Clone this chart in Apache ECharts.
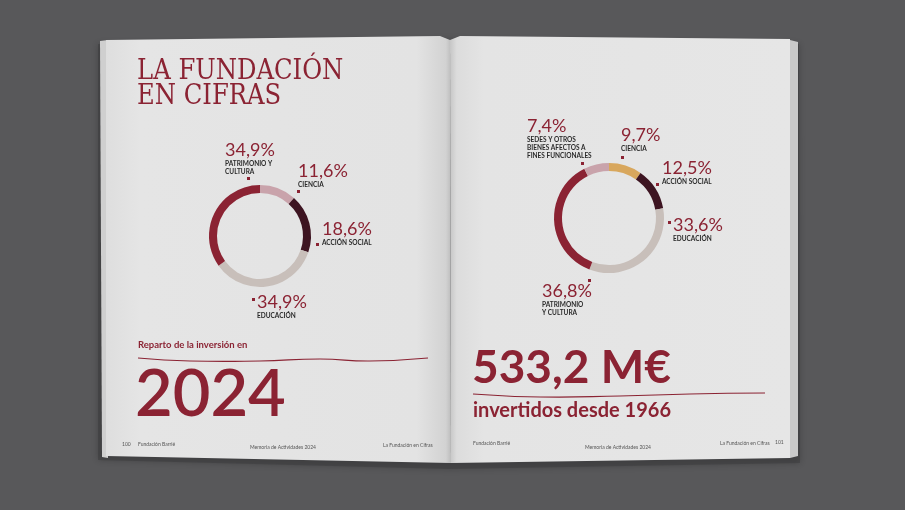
<!DOCTYPE html>
<html><head><meta charset="utf-8">
<script src="https://cdn.jsdelivr.net/npm/echarts@6/dist/echarts.min.js"></script>
<style>html,body{margin:0;padding:0;background:#58585a}#c{width:905px;height:510px}</style>
</head><body><div id="c"></div>
<script>
// ---- data (clockwise from 12 o'clock) ----
const cats2024 = ['CIENCIA', 'ACCIÓN SOCIAL', 'EDUCACIÓN', 'PATRIMONIO Y\nCULTURA'];
const vals2024 = [11.6, 18.6, 34.9, 34.9];
const catsTotal = ['CIENCIA', 'ACCIÓN SOCIAL', 'EDUCACIÓN', 'PATRIMONIO\nY CULTURA', 'SEDES Y OTROS\nBIENES AFECTOS A\nFINES FUNCIONALES'];
const valsTotal = [9.7, 12.5, 33.6, 36.8, 7.4];
const yearLabel = '2024';
const totalLabel = '533,2 M€';
const sinceLabel = 'invertidos desde 1966';

// ---- styles ----
const RED = '#8b2333';
const colors2024 = ['#c9a3ab', '#3d1421', '#c8bfba', RED];
const colorsTotal = ['#d8a75d', '#3d1421', '#c8bfba', RED, '#c9a3ab'];
const labelPos2024 = [[298, 161], [322, 219], [257, 292], [225, 140]];
const labelPosTotal = [[621, 125], [662, 158], [673, 215], [542, 281], [527, 116]];
const markers = [[247, 177], [297, 190], [316, 243], [252, 298], [581, 162], [621, 156], [656, 183], [668, 221], [588, 279]];

const fmt = v => v.toFixed(1).replace('.', ',') + '%';
const mkData = (c, v, col) => c.map((n, i) => ({ name: n, value: v[i], itemStyle: { color: col[i] } }));
const labelFmt = p => '{v|' + fmt(p.value) + '}\n' + p.name.split('\n').map(s => '{n|' + s + '}').join('\n');
const rich = {
  v: { fontFamily: 'Lato', fontSize: 18, color: RED, lineHeight: 20 },
  n: { fontFamily: 'Lato', fontWeight: 'bold', fontSize: 6.5, color: '#2a2a2a', lineHeight: 8 }
};
function pieSeries(cats, vals, cols, pos, center, radius) {
  return {
    type: 'pie', center: center, radius: radius, startAngle: 90, clockwise: true,
    avoidLabelOverlap: false, silent: true, animation: false,
    data: mkData(cats, vals, cols),
    label: { show: true, position: 'outside', formatter: labelFmt, rich: rich },
    labelLine: { show: false },
    labelLayout: p => ({ x: pos[p.dataIndex][0], y: pos[p.dataIndex][1], align: 'left', verticalAlign: 'top', hideOverlap: false })
  };
}

const g = [];
// page stack shadows & pages
g.push({ type: 'polygon', z: 0, shape: { points: [[98, 44], [450, 40], [799, 44], [800, 463], [450, 469], [98, 460]] }, style: { fill: '#3c3c3e', opacity: 0.55, shadowBlur: 6, shadowColor: 'rgba(0,0,0,0.4)' } });
g.push({ type: 'polygon', z: 1, shape: { points: [[100, 41], [108, 40], [108, 458], [102, 457]] }, style: { fill: '#cfcfcf' } });
g.push({ type: 'polygon', z: 1, shape: { points: [[790, 40], [798, 42], [798, 456], [790, 458]] }, style: { fill: '#c9c9c9' } });
g.push({ type: 'polygon', z: 2, shape: { points: [[106, 40], [440, 36], [450, 40], [451, 463], [106, 456]] },
  style: { fill: { type: 'linear', x: 0, y: 0, x2: 1, y2: 0, colorStops: [{ offset: 0, color: '#dedede' }, { offset: 0.1, color: '#e5e5e5' }, { offset: 0.9, color: '#e3e3e3' }, { offset: 0.985, color: '#d2d2d2' }, { offset: 1, color: '#bdbdbd' }] } } });
g.push({ type: 'polygon', z: 2, shape: { points: [[450, 40], [460, 36], [790, 39], [790, 458], [451, 463]] },
  style: { fill: { type: 'linear', x: 0, y: 0, x2: 1, y2: 0, colorStops: [{ offset: 0, color: '#c6c6c6' }, { offset: 0.02, color: '#dcdcdc' }, { offset: 0.1, color: '#e4e4e4' }, { offset: 1, color: '#e6e6e6' }] } } });
// titles
g.push({ type: 'text', z: 5, style: { x: 137, y: 59, text: 'LA FUNDACIÓN\nEN CIFRAS', fill: RED, font: 'normal 27px "DejaVu Serif Condensed", "DejaVu Serif", serif', lineHeight: 25 } });
g.push({ type: 'text', z: 5, style: { x: 138, y: 340, text: 'Reparto de la inversión en', fill: RED, font: 'bold 9.5px Lato' } });
g.push({ type: 'polyline', z: 5, shape: { points: [[138, 358], [190, 361], [260, 361], [320, 359], [370, 361], [428, 358]], smooth: 0.5 }, style: { stroke: RED, lineWidth: 1.2, fill: null } });
g.push({ type: 'text', z: 5, style: { x: 135, y: 363, text: yearLabel, fill: RED, font: '600 65px Lato' } });
g.push({ type: 'text', z: 5, style: { x: 472, y: 345, text: totalLabel, fill: RED, font: 'bold 46px Lato' } });
g.push({ type: 'polyline', z: 5, shape: { points: [[473, 394], [540, 397], [620, 396], [690, 394], [765, 393]], smooth: 0.5 }, style: { stroke: RED, lineWidth: 1.2, fill: null } });
g.push({ type: 'text', z: 5, style: { x: 473, y: 401, text: sinceLabel, fill: RED, font: 'bold 20px Lato' } });
// footers
const ft = (x, y, t) => g.push({ type: 'text', z: 5, style: { x: x, y: y, text: t, fill: '#555', font: '5px Lato' } });
ft(122, 442, '100'); ft(138, 442, 'Fundación Barrié'); ft(250, 445, 'Memoria de Actividades 2024'); ft(383, 443, 'La Fundación en Cifras');
ft(473, 441, 'Fundación Barrié'); ft(585, 445, 'Memoria de Actividades 2024'); ft(720, 441, 'La Fundación en Cifras'); ft(775, 440, '101');
// label markers
markers.forEach(m => g.push({ type: 'rect', z: 6, shape: { x: m[0], y: m[1], width: 3, height: 3 }, style: { fill: RED } }));

const chart = echarts.init(document.getElementById('c'));
chart.setOption({
  backgroundColor: '#58585a',
  animation: false,
  graphic: { elements: g },
  series: [
    pieSeries(cats2024, vals2024, colors2024, labelPos2024, [260, 236], [43, 51]),
    pieSeries(catsTotal, valsTotal, colorsTotal, labelPosTotal, [609, 218], [47, 55])
  ]
});
</script></body></html>
